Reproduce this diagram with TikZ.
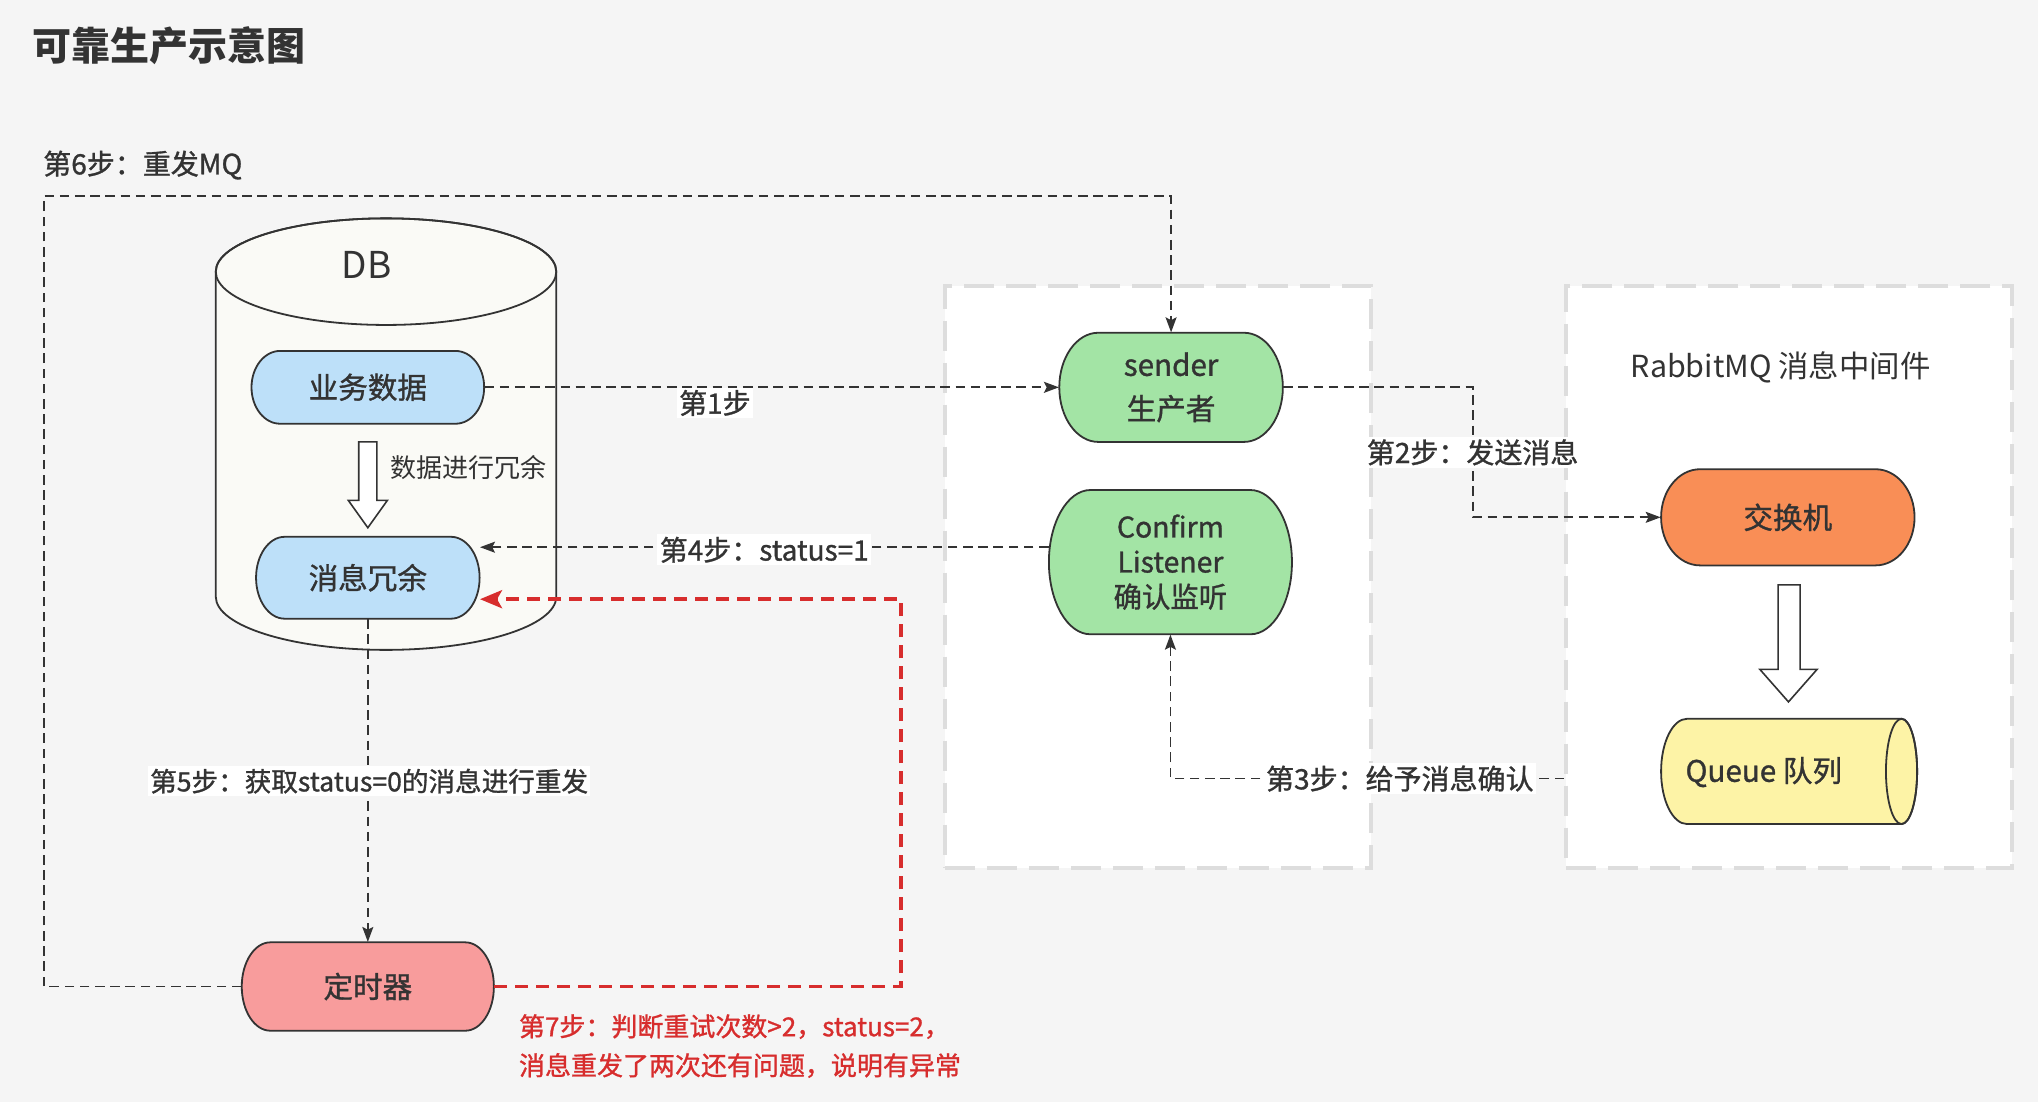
\documentclass[tikz,border=0pt]{standalone}
\usepackage{fontspec}
\setmainfont{Noto Sans CJK SC}
\newfontfamily\medfont{Noto Sans CJK SC}[FakeBold=1.1]
\usetikzlibrary{arrows.meta}
\definecolor{bg}{HTML}{F5F5F5}
\definecolor{ink}{HTML}{333333}
\definecolor{cborder}{HTML}{DDDDDD}
\definecolor{dbfill}{HTML}{FAFAF6}
\definecolor{bluefill}{HTML}{BDE0F9}
\definecolor{greenfill}{HTML}{A3E4A5}
\definecolor{orangefill}{HTML}{F98E56}
\definecolor{yellowfill}{HTML}{FDF3A6}
\definecolor{pinkfill}{HTML}{F89C9C}
\definecolor{redline}{HTML}{D72D2D}
\tikzset{
  conn/.style={draw=ink, line width=0.85pt, dash pattern=on 4.8pt off 2.8pt,
    -{Stealth[length=7.5pt,width=5.5pt,inset=1.4pt]}},
  redconn/.style={draw=redline, line width=1.9pt, dash pattern=on 6.5pt off 4pt,
    -{Stealth[length=11pt,width=9pt,inset=2.5pt]}},
  lbl/.style={fill=white, inner sep=1.2pt, text=ink, font=\medfont\fontsize{14}{16}\selectfont},
  boxtext/.style={text=ink, font=\medfont\fontsize{14.8}{20}\selectfont, align=center, inner sep=0pt},
  container/.style={draw=cborder, fill=white, line width=2pt, dash pattern=on 15pt off 6pt, inner sep=0pt},
  shapeline/.style={draw=ink, line width=0.9pt},
  hollow/.style={draw=ink, line width=0.8pt, fill=white},
}
\newcommand\termnode[9]{%
  \draw[shapeline, fill=#7] ({#2-#4/2+#6},{#3-#5/2}) -- ({#2+#4/2-#6},{#3-#5/2})
    arc[start angle=-90, end angle=90, x radius=#6, y radius=#5/2]
    -- ({#2-#4/2+#6},{#3+#5/2})
    arc[start angle=90, end angle=270, x radius=#6, y radius=#5/2] -- cycle;
  \node[boxtext, minimum width=#4*0.65pt, minimum height=#5*0.65pt, #8] (#1) at (#2,#3) {#9};
}
\begin{document}
\begin{tikzpicture}[x=0.65pt,y=-0.65pt]
\fill[bg] (0,0) rectangle (1568,848);
\useasboundingbox (0,0) rectangle (1568,848);

% title
\node[anchor=west, inner sep=0, text=ink, font=\bfseries\fontsize{19.5}{22}\selectfont] (title) at (25,35) {可靠生产示意图};

% containers
\node[container, minimum width=328*0.65pt, minimum height=448*0.65pt] (mid) at (891,444) {};
\node[container, minimum width=343*0.65pt, minimum height=448*0.65pt] (rmq) at (1376.5,444) {};
\node[text=ink, font=\fontsize{15.2}{18}\selectfont] (rmqlabel) at (1370,283) {RabbitMQ 消息中间件};

% DB cylinder
\draw[shapeline, fill=dbfill] (166,209) -- (166,459)
  arc[start angle=180, end angle=0, x radius=131, y radius=41] -- (428,209)
  arc[start angle=0, end angle=-180, x radius=131, y radius=41] -- cycle;
\draw[shapeline] (297,209) ellipse[x radius=131, y radius=41];
\node[text=ink, font=\fontsize{18.5}{20}\selectfont] (dblabel) at (282,204) {DB};

% nodes
\termnode{biz}{283}{298}{179}{56}{22}{bluefill}{}{业务数据}
\termnode{xr}{283}{444.5}{172}{63}{22}{bluefill}{}{消息冗余}
\termnode{sender}{901}{298}{172}{84}{30}{greenfill}{font=\medfont\fontsize{14.8}{22}\selectfont}{sender\\生产者}
\termnode{confirm}{900.5}{432.5}{187}{111}{32}{greenfill}{font=\medfont\fontsize{14.2}{17.5}\selectfont}{Confirm\\Listener\\确认监听}
\termnode{exch}{1375.5}{398}{195}{74}{30}{orangefill}{}{交换机}
\termnode{timer}{283}{759}{194}{68}{22}{pinkfill}{}{定时器}

% queue cylinder
\draw[shapeline, fill=yellowfill] (1298,553) -- (1463,553)
  arc[start angle=-90, end angle=90, x radius=12, y radius=40.5] -- (1298,634)
  arc[start angle=90, end angle=270, x radius=20, y radius=40.5] -- cycle;
\draw[shapeline] (1463,593.5) ellipse[x radius=12, y radius=40.5];
\node[boxtext] (queue) at (1357,594) {Queue 队列};

% hollow arrows
\draw[hollow] (276,340) -- (290,340) -- (290,385) -- (298,385) -- (283,406) -- (268,385) -- (276,385) -- cycle;
\node[anchor=west, text=ink, font=\fontsize{13}{15}\selectfont] (redund) at (295,360) {数据进行冗余};
\draw[hollow] (1368,450) -- (1385,450) -- (1385,515) -- (1398,515) -- (1376,540) -- (1354,515) -- (1368,515) -- cycle;

% helper coordinates
\coordinate (y421) at (0,421);
\coordinate (y599) at (0,599);
\coordinate (c6) at (34,151);
\coordinate (c7) at (693,461);

% connectors
\draw[conn] (biz.east) -- (sender.west);
\draw[conn] (sender.east) -- ++(146,0) |- (exch.west);
\draw[conn] (rmq.west |- y599) -| (confirm.south);
\draw[conn] (confirm.west |- y421) -- (xr.east |- y421);
\draw[conn] (xr.south) -- (timer.north);
\draw[conn] (timer.west) -| (c6) -| (sender.north);
\draw[redconn] (timer.east) -| (c7) -- (xr.east |- c7);

% labels
\node[lbl] (l1) at (550,310) {第1步};
\node[lbl] (l2) at (1133,348) {第2步：发送消息};
\node[lbl] (l3) at (1077,599) {第3步：给予消息确认};
\node[lbl] (l4) at (588,423) {第4步：status=1};
\node[lbl, font=\medfont\fontsize{13.3}{16}\selectfont] (l5) at (284,601) {第5步：获取status=0的消息进行重发};
\node[anchor=west, inner sep=0, text=ink, font=\medfont\fontsize{14}{16}\selectfont] (l6) at (33,127) {第6步：重发MQ};
\node[anchor=north west, align=left, inner sep=0, text=redline, font=\medfont\fontsize{13}{19.5}\selectfont] (l7) at (399,780) {第7步：判断重试次数>2，status=2，\\消息重发了两次还有问题，说明有异常};
\end{tikzpicture}
\end{document}
